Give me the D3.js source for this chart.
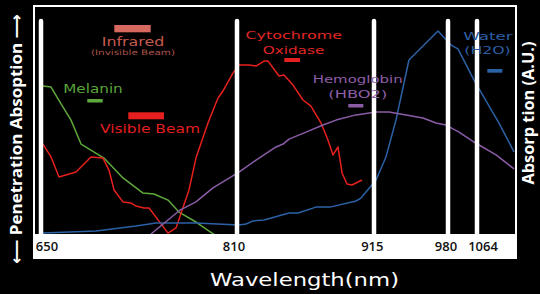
<!DOCTYPE html>
<html><head><meta charset="utf-8">
<script src="https://cdn.jsdelivr.net/npm/d3@7"></script>
<style>html,body{margin:0;padding:0;background:#000;}svg{display:block}</style>
</head><body><svg id="c" width="540" height="294"></svg>
<script>
// ---- data (wavelength in nm, absorption in arbitrary units 0-100) ----
const tickValues = [650, 810, 915, 980, 1064];
const tickLabels = ["650", "810", "915", "980", "1064"];

const melanin = [[651.6,65.5],[658.2,65.0],[665.5,58.4],[674.5,50.4],[682.7,39.8],[701.4,33.6],[716.9,24.8],[733.3,18.1],[742.2,17.7],[753.7,15.0],[762.6,9.7],[776.5,5.3],[792.0,-0.5]];

const cytochrome = [[651.6,39.8],[658.2,34.1],[664.7,25.2],[678.6,27.4],[690.8,34.1],[700.6,33.6],[705.5,28.3],[709.6,19.5],[716.9,14.2],[723.5,13.7],[727.5,12.4],[734.1,11.5],[738.2,11.5],[753.7,0.4],[760.2,2.7],[770.8,19.5],[776.5,33.6],[786.3,49.1],[794.5,60.2],[798.6,63.3],[806.7,71.2],[811.5,74.8],[819.2,74.8],[824.6,74.3],[830.7,76.5],[833.8,76.5],[842.2,69.9],[846.0,70.4],[852.9,65.9],[860.6,59.3],[866.7,56.6],[874.4,49.1],[879.7,41.6],[883.6,35.0],[887.4,38.5],[890.5,27.0],[894.3,22.1],[898.1,21.7],[905.8,23.9]];

const water = [[651.6,0.4],[694.9,1.3],[727.5,3.5],[743.9,4.9],[776.5,4.9],[811.5,4.0],[816.9,4.4],[822.3,5.8],[830.7,6.2],[849.9,9.3],[856.8,9.3],[870.5,11.9],[881.3,11.9],[901.2,14.6],[905.0,15.9],[916.8,23.9],[925.5,34.1],[934.3,50.4],[945.7,77.0],[971.2,89.8],[988.7,83.6],[1009.0,81.9],[1055.3,68.1],[1127.7,49.1],[1171.2,36.3]];

const hemoglobin = [[739.8,0],[763.5,10.6],[776.5,14.2],[790.4,20.4],[811.5,27.4],[824.6,32.7],[839.9,38.5],[845.3,39.8],[849.9,42.0],[862.9,45.1],[875.9,48.2],[885.9,50.4],[901.2,52.7],[916.8,54.0],[928.2,54.0],[943.1,52.7],[958.0,51.3],[969.5,49.1],[978.2,48.2],[1011.9,45.1],[1055.3,40.7],[1119.1,35.0],[1171.2,28.8]];

const seriesNames = ["Melanin", "Cytochrome", "Water", "Hemoglobin"];
const seriesData = [melanin, cytochrome, water, hemoglobin];
const seriesColors = ["#5fa93c", "#e6211d", "#2b62a6", "#8b5ca6"];

// ---- drawing ----
const svg = d3.select("#c");
svg.append("rect").attr("width", 540).attr("height", 294).attr("fill", "#000");
svg.append("rect").attr("x", 33).attr("y", 5).attr("width", 484).attr("height", 254).attr("fill", "#fff");
svg.append("rect").attr("x", 35).attr("y", 7).attr("width", 480).attr("height", 227).attr("fill", "#000");

// non-linear (piecewise) wavelength scale as in the original figure
const x = d3.scaleLinear().domain(tickValues).range([41, 237, 374, 448, 477]);
const y = d3.scaleLinear().domain([0, 100]).range([234, 8]);

svg.append("clipPath").attr("id", "clip").append("rect")
  .attr("x", 35).attr("y", 7).attr("width", 480).attr("height", 227);

const line = d3.line().x(d => x(d[0])).y(d => y(d[1]));
const g = svg.append("g").attr("clip-path", "url(#clip)");
seriesData.forEach((d, i) => {
  g.append("path").datum(d).attr("d", line)
    .attr("fill", "none").attr("stroke", seriesColors[i])
    .attr("stroke-width", 1.5).attr("stroke-linejoin", "round");
});

// vertical marker lines at the tick wavelengths
svg.selectAll("line.mark").data(tickValues).join("line").attr("class", "mark")
  .attr("x1", d => x(d)).attr("x2", d => x(d))
  .attr("y1", 21).attr("y2", 238)
  .attr("stroke", "#fff").attr("stroke-width", 4.5).attr("stroke-linecap", "round");

// tick labels
const tickDx = [6, -3, -1.7, -2, 6];
svg.selectAll("text.tick").data(tickValues).join("text").attr("class", "tick")
  .attr("x", (d, i) => x(d) + tickDx[i]).attr("y", 251)
  .attr("text-anchor", "middle")
  .attr("font-family", "Open Sans").attr("font-weight", 600).attr("font-size", 13)
  .attr("fill", "#111").text((d, i) => tickLabels[i]);

// legend labels (text lines) and swatches
const labelFont = "DejaVu Sans";
const labels = [
  {t: "Infrared", cx: 133, y: 46, fs: 12, w: 62.5, c: "#c95a50"},
  {t: "(Invisible Beam)", cx: 133, y: 55, fs: 7.5, w: 84, c: "#a9524a"},
  {t: "Melanin", cx: 93, y: 93.3, fs: 11.5, w: 59.5, c: "#5aa53a"},
  {t: "Visible Beam", cx: 150, y: 132.7, fs: 12.8, w: 100, c: "#e21f1f"},
  {t: "Cytochrome", cx: 293.7, y: 38.7, fs: 11, w: 96.5, c: "#e02626"},
  {t: "Oxidase", cx: 293.5, y: 53.7, fs: 11, w: 61.5, c: "#e02626"},
  {t: "Hemoglobin", cx: 357.7, y: 82.7, fs: 11, w: 90, c: "#8e5ea8"},
  {t: "(HBO2)", cx: 357.8, y: 98.3, fs: 11, w: 59, c: "#8e5ea8"},
  {t: "Water", cx: 488, y: 40, fs: 11, w: 49.5, c: "#2c5ea2"},
  {t: "(H2O)", cx: 487.5, y: 54, fs: 11, w: 46.5, c: "#2c5ea2"}
];
svg.selectAll("text.lbl").data(labels).join("text").attr("class", "lbl")
  .attr("x", d => d.cx - d.w / 2).attr("y", d => d.y)
  .attr("font-family", labelFont).attr("font-size", d => d.fs)
  .attr("textLength", d => d.w).attr("lengthAdjust", "spacingAndGlyphs")
  .attr("fill", d => d.c).text(d => d.t);

const swatches = [
  {x: 114.3, y: 25, w: 36.4, h: 7.3, c: "#d5685f"},
  {x: 87.3, y: 99, w: 15.4, h: 3.5, c: "#5fa93c"},
  {x: 128.3, y: 112.3, w: 35.7, h: 7, c: "#e51f1f"},
  {x: 284.3, y: 58, w: 15.7, h: 4, c: "#e51f1f"},
  {x: 348.3, y: 104, w: 15, h: 3.5, c: "#8b5ca6"},
  {x: 487.3, y: 69, w: 15, h: 3.7, c: "#2b62a6"}
];
svg.selectAll("rect.sw").data(swatches).join("rect").attr("class", "sw")
  .attr("x", d => d.x).attr("y", d => d.y).attr("width", d => d.w).attr("height", d => d.h)
  .attr("fill", d => d.c);

// axis titles
svg.append("text").attr("x", 210).attr("y", 285.7)
  .attr("font-family", labelFont).attr("font-size", 17)
  .attr("textLength", 189).attr("lengthAdjust", "spacingAndGlyphs")
  .attr("fill", "#fff").text("Wavelength(nm)");

svg.append("text").attr("transform", "translate(22,139) rotate(-90)")
  .attr("text-anchor", "middle")
  .attr("font-family", "Open Sans, DejaVu Sans").attr("font-weight", 700).attr("font-size", 16.5)
  .attr("textLength", 250).attr("lengthAdjust", "spacingAndGlyphs")
  .attr("fill", "#fff").text("\u27F5 Penetration Absoption \u27F6");

svg.append("text").attr("transform", "translate(534,113) rotate(-90)")
  .attr("text-anchor", "middle")
  .attr("font-family", "Open Sans").attr("font-weight", 700).attr("font-size", 16)
  .attr("textLength", 143).attr("lengthAdjust", "spacingAndGlyphs")
  .attr("fill", "#fff").text("Absorp tion (A.U.)");
</script>
</body></html>
